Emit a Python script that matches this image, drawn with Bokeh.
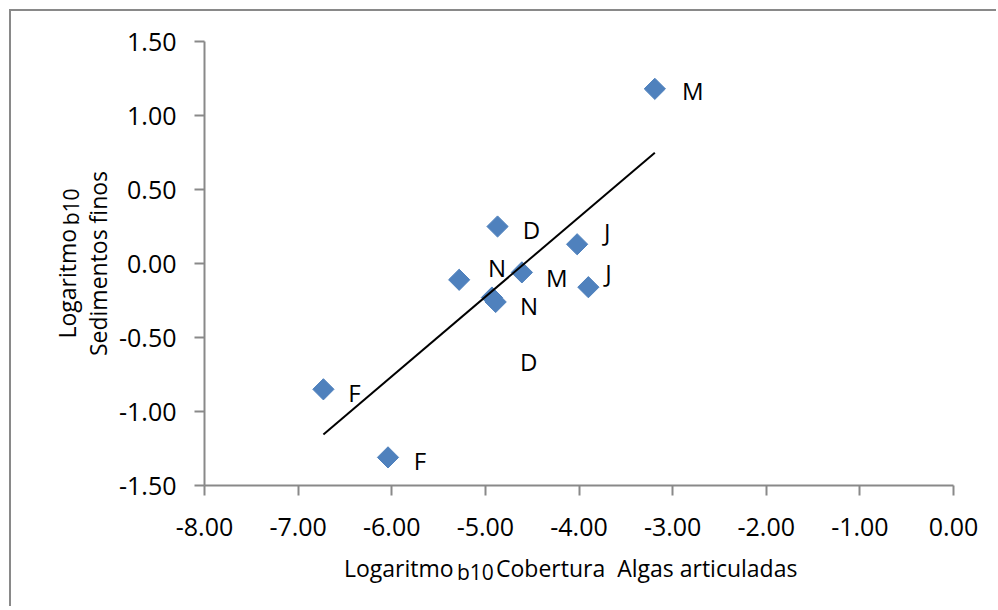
import numpy as np
from bokeh.plotting import figure
from bokeh.models import ColumnDataSource, FixedTicker, Label, NumeralTickFormatter, Range1d
from bokeh.core.properties import value
from bokeh.embed import file_html
from bokeh.resources import INLINE

# log10 of articulated-algae cover vs log10 of fine sediments, one point per sampling month
cover_log = [-3.19, -4.87, -4.02, -5.28, -4.61, -3.90, -4.93, -4.89, -6.73, -6.04]
sediment_log = [1.18, 0.25, 0.13, -0.11, -0.06, -0.16, -0.23, -0.26, -0.85, -1.31]
months = ["M", "D", "J", "N", "M", "J", "N", "D", "F", "F"]

x_ticks = [-8, -7, -6, -5, -4, -3, -2, -1, 0]
y_ticks = [-1.5, -1.0, -0.5, 0.0, 0.5, 1.0, 1.5]

# where each month letter sits relative to its marker (pixels)
label_dx = [38, 34, 30, 38, 35, 20, 37, 33, 31, 32]
label_dy = [2, 3, -13, -12, 5, -15, 8, 60, 3, 3]

FONT = "Open Sans"
AXIS_GREY = "#898989"
MARKER_BLUE = "#4F81BD"

# page layout (pixels): chart box offset and the axes rectangle inside it
BOX_MARGIN, BOX_BORDER = 9, 2
CANVAS_W, CANVAS_H = 987, 597
AXES_LEFT, AXES_RIGHT, AXES_TOP, AXES_BOTTOM = 204, 953, 41, 485

origin = BOX_MARGIN + BOX_BORDER
x_min, x_max = x_ticks[0], x_ticks[-1]
y_min, y_max = y_ticks[0], y_ticks[-1]
px_x = (AXES_RIGHT - AXES_LEFT) / (x_max - x_min)
px_y = (AXES_BOTTOM - AXES_TOP) / (y_max - y_min)
x_start = x_min - (AXES_LEFT - origin) / px_x
y_end = y_max + (AXES_TOP - origin) / px_y

# least-squares trend line over the observed range
slope, intercept = np.polyfit(cover_log, sediment_log, 1)
trend_x = [min(cover_log), max(cover_log)]
trend_y = [slope * v + intercept for v in trend_x]

src = ColumnDataSource(dict(x=cover_log, y=sediment_log, month=months,
                            dx=label_dx, dy=label_dy))

# the frame fills the whole canvas; axes are pinned at the data edges so the
# titles can sit inside the frame
p = figure(width=CANVAS_W, height=CANVAS_H,
           x_range=Range1d(x_start, x_start + CANVAS_W / px_x),
           y_range=Range1d(y_end - CANVAS_H / px_y, y_end),
           output_backend="svg", toolbar_location=None, min_border=0)
p.margin = (BOX_MARGIN, 0, 0, BOX_MARGIN)
p.styles = {"border-left": f"{BOX_BORDER}px solid {AXIS_GREY}",
            "border-top": f"{BOX_BORDER}px solid {AXIS_GREY}"}
p.title.visible = False
p.background_fill_color = "white"
p.border_fill_color = "white"
p.outline_line_color = None
p.grid.visible = False

p.xaxis.fixed_location = y_min
p.yaxis.fixed_location = x_min
p.xaxis.bounds = (x_min, x_max)
p.yaxis.bounds = (y_min, y_max)

for ax, ticks in ((p.xaxis, x_ticks), (p.yaxis, y_ticks)):
    ax.ticker = FixedTicker(ticks=ticks)
    ax.formatter = NumeralTickFormatter(format="0.00")
    ax.axis_line_color = AXIS_GREY
    ax.axis_line_width = 2
    ax.major_tick_line_color = AXIS_GREY
    ax.major_tick_line_width = 2
    ax.major_tick_in = 0
    ax.major_tick_out = 10
    ax.minor_tick_line_color = None
    ax.major_label_text_font = FONT
    ax.major_label_text_font_size = "25px"
    ax.major_label_text_color = "black"
p.xaxis.major_label_standoff = 22
p.yaxis.major_label_standoff = 18

p.scatter("x", "y", source=src, marker="square", size=15, angle=np.pi / 4,
          fill_color=MARKER_BLUE, line_color=MARKER_BLUE)
p.line(trend_x, trend_y, line_color="black", line_width=2)
p.text("x", "y", text="month", source=src, x_offset="dx", y_offset="dy",
       text_align="center", text_baseline="middle",
       text_font=value(FONT), text_font_size="24px", text_color="black")

# axis titles with a subscripted base
title_size = "23px"
sub_size = "21px"
x_mid = (x_min + x_max) / 2
y_mid = (y_min + y_max) / 2


def title_piece(x, y, dx, dy, text, size, align, angle=0.0):
    p.add_layout(Label(x=x, y=y, x_offset=dx, y_offset=dy, text=text, angle=angle,
                       text_font=FONT, text_font_size=size, text_color="black",
                       text_align=align, text_baseline="alphabetic"))


title_piece(x_mid, y_min, -235, -82, "Logaritmo", title_size, "left")
title_piece(x_mid, y_min, -122, -86, "b10", sub_size, "left")
title_piece(x_mid, y_min, -83, -82, "Cobertura\u00a0 Algas articuladas", title_size, "left")

title_piece(x_min, y_mid, -138, -75, "Logaritmo", title_size, "left", np.pi / 2)
title_piece(x_min, y_mid, -134, 75, "b10", sub_size, "right", np.pi / 2)
title_piece(x_min, y_mid, -107, 0, "Sedimentos finos", title_size, "center", np.pi / 2)

open("out.html", "w").write(file_html(p, INLINE))
